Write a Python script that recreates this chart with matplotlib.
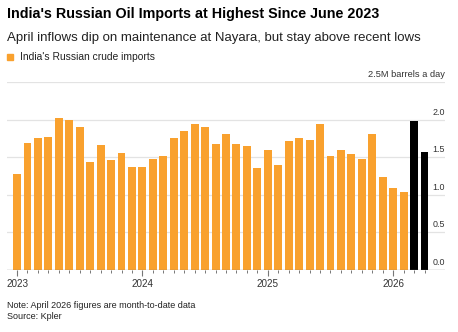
import numpy as np
import matplotlib
matplotlib.use('Agg')
import matplotlib.pyplot as plt

plt.rcParams['font.family'] = ['Liberation Sans', 'DejaVu Sans']

# Monthly Russian crude imports into India, million barrels a day (Jan 2023 - Apr 2026)
imports_2023 = [1.28, 1.69, 1.75, 1.77, 2.02, 2.00, 1.90, 1.43, 1.66, 1.46, 1.56, 1.37]
imports_2024 = [1.37, 1.47, 1.51, 1.75, 1.85, 1.94, 1.90, 1.68, 1.81, 1.67, 1.65, 1.36]
imports_2025 = [1.60, 1.40, 1.72, 1.76, 1.73, 1.94, 1.52, 1.59, 1.54, 1.48, 1.81, 1.24]
imports_2026 = [1.09, 1.04, 1.98, 1.57]
highlight = [False] * 38 + [True, True]   # Mar and Apr 2026

values = imports_2023 + imports_2024 + imports_2025 + imports_2026
years = [2023, 2024, 2025, 2026]
y_ticks = [0.0, 0.5, 1.0, 1.5, 2.0]

ORANGE = '#F9A12E'
GRID = '#E3E3E3'

fig = plt.figure(figsize=(4.58, 3.32), dpi=100)
fig.patch.set_facecolor('white')
ax = fig.add_axes([7 / 458, 62.3 / 332, 438 / 458, 187.5 / 332])

x = np.arange(len(values))
colors = ['black' if h else ORANGE for h in highlight]
ax.bar(x, values, width=0.76, color=colors, zorder=2)

ax.set_xlim(-0.96, len(values) + 0.96)
ax.set_ylim(0, 2.5)

# horizontal gridlines, labels sit on top of them at the right edge
for v in y_ticks[1:] + [2.5]:
    ax.axhline(v, color=GRID, linewidth=0.9, zorder=1)
ax.axhline(0, color='#777777', linewidth=0.9, zorder=3)
for v in y_ticks:
    ax.text(1.0, v + 0.04, f'{v:.1f}', transform=ax.get_yaxis_transform(),
            ha='right', va='bottom', fontsize=6.4, color='#333333')
ax.text(1.0, 2.5 + 0.04, '2.5M barrels a day', transform=ax.get_yaxis_transform(),
        ha='right', va='bottom', fontsize=6.7, color='#333333')

ax.set_yticks([])
ax.set_xticks(x, minor=True)
year_pos = [(yr - 2023) * 12 for yr in years]
ax.set_xticks(year_pos)
ax.set_xticklabels([str(yr) for yr in years], fontsize=7.1, color='#333333')
ax.tick_params(axis='x', which='major', length=4.5, width=0.8, color='#777777', pad=2)
ax.tick_params(axis='x', which='minor', length=2.5, width=0.7, color='#777777')
for s in ax.spines.values():
    s.set_visible(False)

fig.text(7 / 458, 1 - 14 / 332, "India's Russian Oil Imports at Highest Since June 2023",
         fontsize=10.3, fontweight='bold', va='center', ha='left', color='black')
fig.text(7 / 458, 1 - 37.5 / 332, 'April inflows dip on maintenance at Nayara, but stay above recent lows',
         fontsize=9.5, va='center', ha='left', color='#222222')
fig.patches.append(plt.Rectangle((7 / 458, 1 - 60 / 332), 6 / 458, 6 / 332,
                                 transform=fig.transFigure, color=ORANGE))
fig.text(20 / 458, 1 - 57 / 332, "India's Russian crude imports",
         fontsize=7.4, va='center', ha='left', color='#222222')

fig.text(7 / 458, 1 - 306 / 332, 'Note: April 2026 figures are month-to-date data',
         fontsize=6.5, va='center', ha='left', color='#222222')
fig.text(7 / 458, 1 - 316.5 / 332, 'Source: Kpler',
         fontsize=6.5, va='center', ha='left', color='#222222')

fig.savefig('out.png', dpi=100, facecolor='white')
